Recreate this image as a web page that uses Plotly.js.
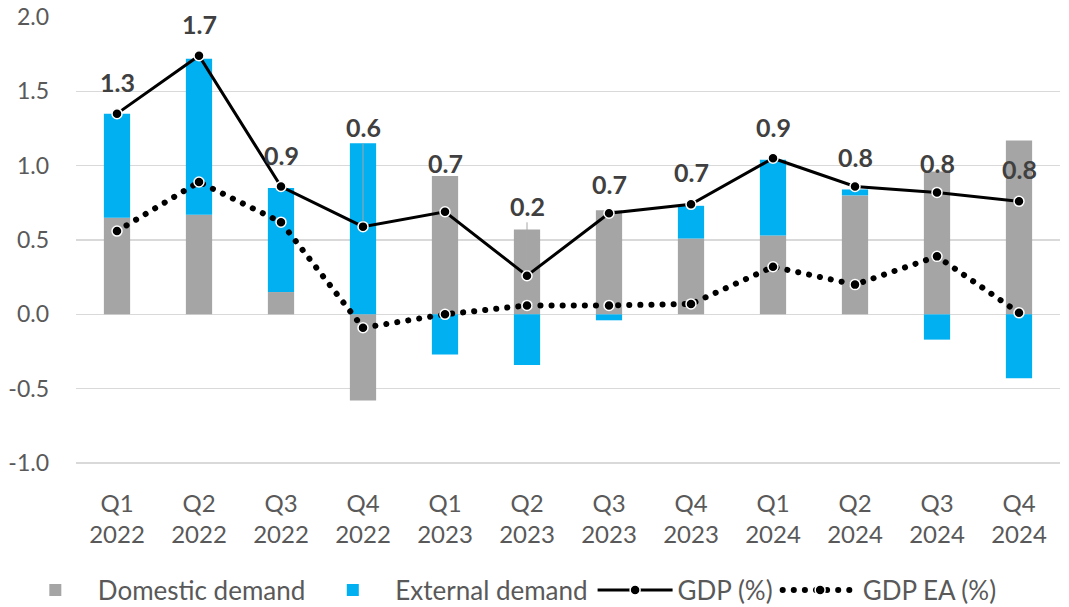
<!DOCTYPE html>
<html>
<head>
<meta charset="utf-8">
<script src="https://cdn.plot.ly/plotly-3.0.1.min.js"></script>
<style>html,body{margin:0;padding:0;background:#fff}#chart{width:1069px;height:607px}</style>
</head>
<body>
<div id="chart"></div>
<script>
// ---- data ----
const quarters = ["Q1<br>2022","Q2<br>2022","Q3<br>2022","Q4<br>2022","Q1<br>2023","Q2<br>2023","Q3<br>2023","Q4<br>2023","Q1<br>2024","Q2<br>2024","Q3<br>2024","Q4<br>2024"];
const domesticDemand = [0.65, 0.67, 0.15, -0.58, 0.93, 0.57, 0.70, 0.51, 0.53, 0.80, 0.96, 1.17];
const externalDemand = [0.70, 1.05, 0.70, 1.15, -0.27, -0.34, -0.04, 0.22, 0.51, 0.04, -0.17, -0.43];
const gdp = [1.35, 1.74, 0.86, 0.59, 0.69, 0.26, 0.68, 0.74, 1.05, 0.86, 0.82, 0.76];
const gdpEA = [0.56, 0.89, 0.62, -0.09, 0.00, 0.06, 0.06, 0.07, 0.32, 0.20, 0.39, 0.01];
const gdpLabels = ["1.3","1.7","0.9","0.6","0.7","0.2","0.7","0.7","0.9","0.8","0.8","0.8"];
const yTickVals = [-1.0, -0.5, 0.0, 0.5, 1.0, 1.5, 2.0];
const yTickText = yTickVals.map(v => v.toFixed(1));

// label placement (layout only)
const labelY = [1.56, 1.95, 1.07, 1.26, 1.02, 0.73, 0.88, 0.96, 1.26, 1.06, 1.02, 0.98];
const leaderIdx = [3, 5];

const FONT = "Lato, 'Open Sans', sans-serif";
const TXT = "#404040";
const TICK = "#595959";

const traces = [
  {type:"bar", name:"Domestic demand", x:quarters, y:domesticDemand, marker:{color:"#A5A5A5"}, width:0.32},
  {type:"bar", name:"External demand", x:quarters, y:externalDemand, marker:{color:"#00B0F0"}, width:0.32},
  {type:"scatter", mode:"lines+markers", name:"GDP (%)", x:quarters, y:gdp,
   line:{color:"#000000", width:3}, marker:{color:"#000000", size:10, line:{color:"#ffffff", width:1.5}}},
  {type:"scatter", mode:"lines+markers", name:"GDP EA (%)", x:quarters, y:gdpEA,
   line:{color:"#000000", width:5, dash:"5px,6px"}, marker:{color:"#000000", size:10, line:{color:"#ffffff", width:1.5}}}
];

const annotations = quarters.map((q, i) => {
  const a = {x:q, y:labelY[i], xref:"x", yref:"y", text:"<b>"+gdpLabels[i]+"</b>", showarrow:false,
             font:{family:FONT, size:25, color:TXT}};
  if (leaderIdx.includes(i)) {
    a.y = gdp[i]; a.showarrow = true; a.ax = q; a.axref = "x"; a.ay = labelY[i]; a.ayref = "y";
    a.arrowhead = 0; a.arrowwidth = 1; a.arrowcolor = "#a6a6a6"; a.standoff = 5;
  }
  return a;
});

const layout = {
  width:1069, height:607,
  margin:{l:76, r:9, t:17, b:141, autoexpand:false},
  paper_bgcolor:"#ffffff", plot_bgcolor:"#ffffff",
  barmode:"relative",
  font:{family:FONT, size:23, color:TICK},
  showlegend:true,
  legend:{orientation:"h", xref:"container", x:0.012, xanchor:"left", yref:"container", y:0.028, yanchor:"middle",
          font:{family:FONT, size:26, color:TICK}, itemwidth:75, traceorder:"normal"},
  xaxis:{type:"category", range:[-0.5, 11.5], automargin:false, showgrid:false, zeroline:false, showline:false, ticks:"",
         tickfont:{family:FONT, size:24, color:TICK}, ticklabelstandoff:21},
  yaxis:{range:[-1.02, 2.0], automargin:false, tickvals:yTickVals, ticktext:yTickText, showgrid:true, gridcolor:"#d9d9d9", gridwidth:1.5,
         zeroline:true, zerolinecolor:"#d9d9d9", zerolinewidth:1.5, showline:false, ticks:"",
         tickfont:{family:FONT, size:23, color:TICK}, ticklabelstandoff:26},
  annotations:annotations
};

Plotly.newPlot("chart", traces, layout, {displayModeBar:false, staticPlot:true}).then(() => {
  document.querySelectorAll("#chart .scatterlayer .trace").forEach((t, i) => {
    if (i === 1) t.querySelectorAll("path.js-line").forEach(p => {
      p.style.strokeLinecap = "round"; p.style.strokeDasharray = "0.1px,11px"; p.style.strokeWidth = "6px";
    });
  });
  document.querySelectorAll("#chart .legend .traces").forEach((t, i) => {
    if (i === 3) t.querySelectorAll("path.js-line").forEach(p => {
      p.style.strokeLinecap = "round"; p.style.strokeDasharray = "0.1px,11px"; p.style.strokeWidth = "6px";
    });
  });
});
</script>
</body>
</html>
